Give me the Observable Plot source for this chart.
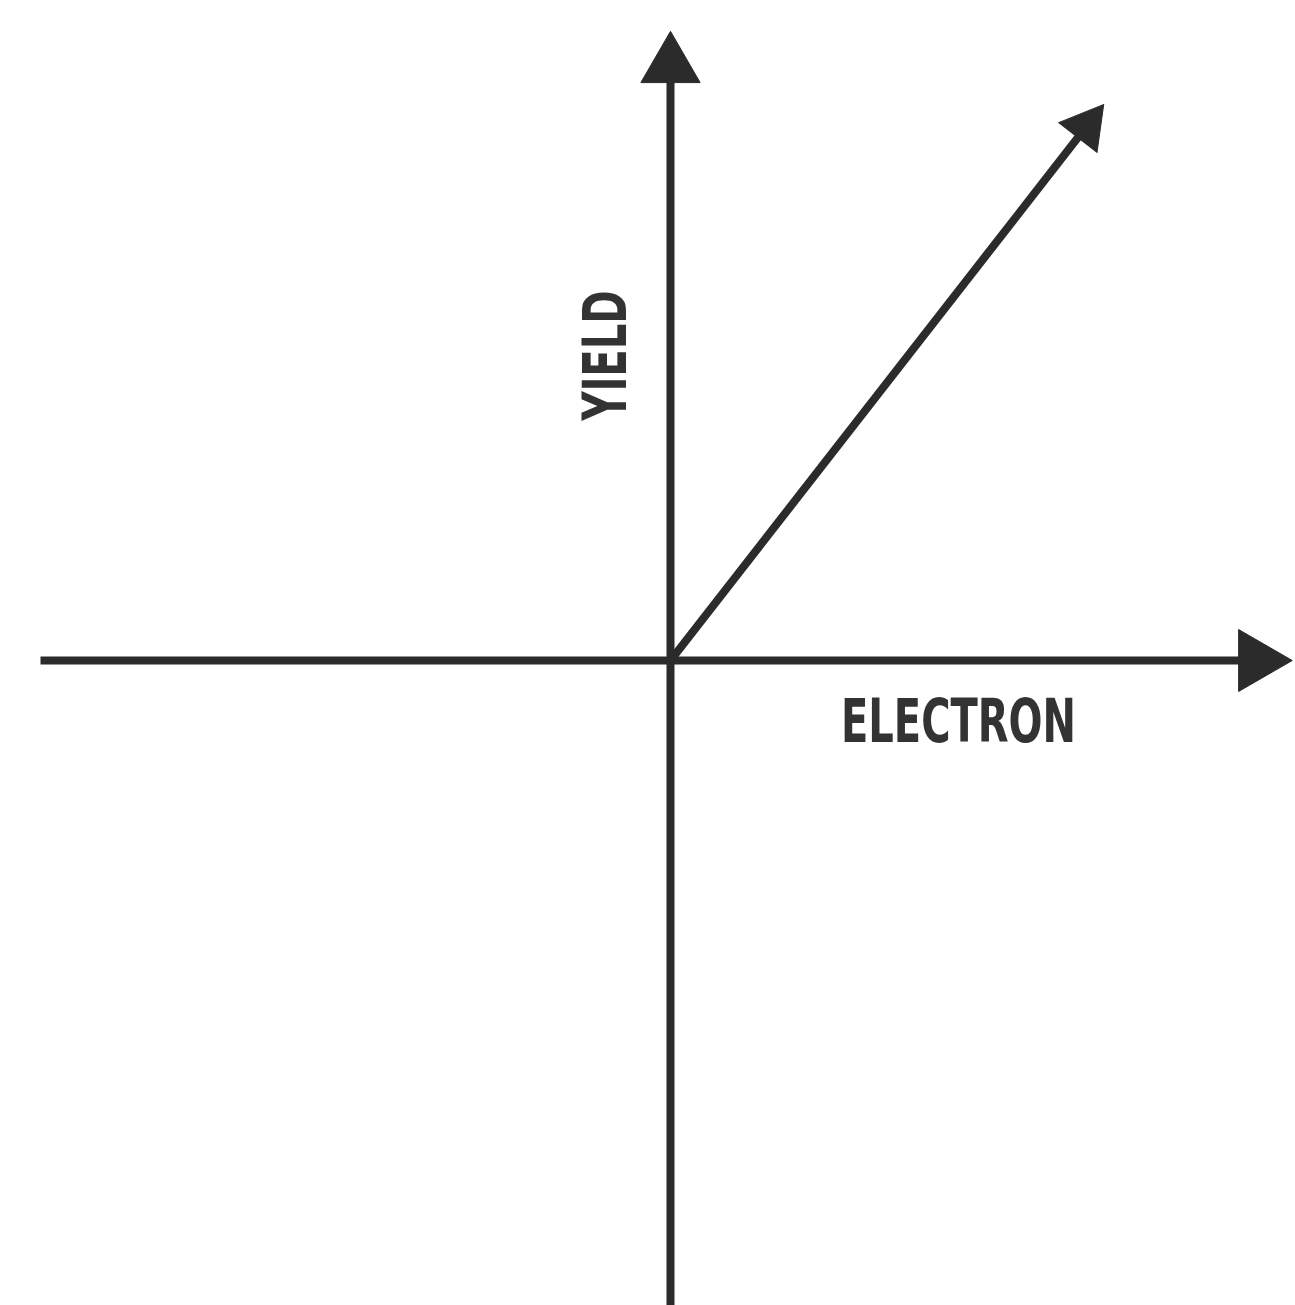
<!DOCTYPE html>
<html>
<head>
<meta charset="utf-8">
<script src="https://cdn.jsdelivr.net/npm/d3@7"></script>
<script src="https://cdn.jsdelivr.net/npm/@observablehq/plot@0.6"></script>
<style>
  html, body { margin: 0; padding: 0; background: #fff; overflow: hidden; }
  svg { display: block; }
</style>
</head>
<body>
<div id="chart"></div>
<script>
// Axis extents (data units)
const xAxisExtent = [-6.3, 5.86];
const yAxisExtent = [-6.45, 5.95];
// Ray from origin
const rayEnd = [4.16, 5.34];
// Labels
const labelTexts = ["ELECTRON", "YIELD"];
const labelX = [2.88, -0.64];
const labelY = [-0.62, 3.05];
const labelRotate = [0, -90];
const labelLength = [235, 130];

const axes = [
  {x1: xAxisExtent[0], y1: 0, x2: xAxisExtent[1], y2: 0},
  {x1: 0, y1: yAxisExtent[0], x2: 0, y2: yAxisExtent[1]},
  {x1: 0, y1: 0, x2: rayEnd[0], y2: rayEnd[1]}
];
const heads = [
  {x: xAxisExtent[1], y: 0, rot: 90, r: 23},
  {x: 0, y: yAxisExtent[1], rot: 0, r: 22},
  {x: rayEnd[0], y: rayEnd[1], rot: Math.atan2(rayEnd[0], rayEnd[1]) * 180 / Math.PI, r: 18}
];
const labels = labelTexts.map((t, i) => ({t, x: labelX[i], y: labelY[i], rot: labelRotate[i], len: labelLength[i]}));

const ink = "#2b2b2b";
const font = "DejaVu Sans Condensed, DejaVu Sans, sans-serif";
const chart = Plot.plot({
  width: 1295,
  height: 1305,
  margin: 0,
  x: {domain: [-6.7, 6.25], axis: null},
  y: {domain: [-6.45, 6.6], axis: null},
  r: {type: "identity"},
  marks: [
    Plot.link(axes, {x1: "x1", y1: "y1", x2: "x2", y2: "y2", stroke: ink, strokeWidth: 8}),
    Plot.dot(heads, {x: "x", y: "y", r: "r", rotate: "rot", symbol: "triangle", fill: ink, stroke: ink, strokeWidth: 1}),
    Plot.text(labels.filter(d => d.rot === 0), {x: "x", y: "y", text: "t", fontSize: 60, fontWeight: "bold", fill: "#333", fontFamily: font}),
    Plot.text(labels.filter(d => d.rot !== 0), {x: "x", y: "y", text: "t", rotate: -90, fontSize: 60, fontWeight: "bold", fill: "#333", fontFamily: font})
  ]
});
// fit label widths to the reference
chart.querySelectorAll("text").forEach(el => {
  const lab = labels.find(l => l.t === el.textContent);
  if (lab) {
    el.setAttribute("textLength", lab.len);
    el.setAttribute("lengthAdjust", "spacingAndGlyphs");
  }
});
document.getElementById("chart").append(chart);
</script>
</body>
</html>
